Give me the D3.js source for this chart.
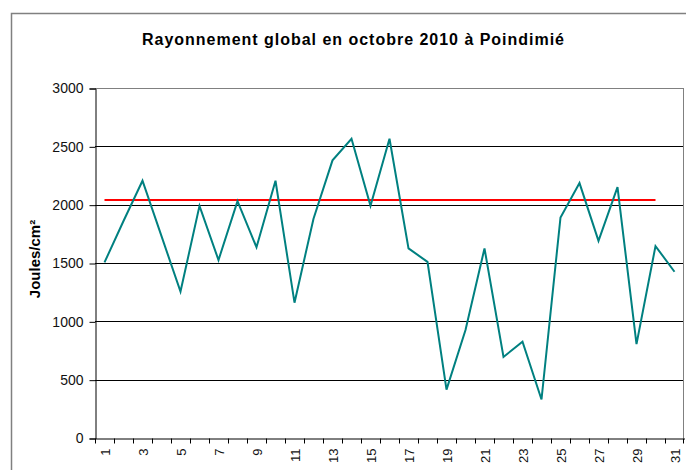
<!DOCTYPE html>
<html>
<head>
<meta charset="utf-8">
<script src="https://cdn.jsdelivr.net/npm/d3@7"></script>
<style>
    body { margin: 0; background: #fff; }
    text { font-family: "Liberation Sans", Arial, sans-serif; }
</style>
</head>
<body>
<div id="container"></div>
<script>
const days = d3.range(1, 32)
const radiation = [1505, 1860, 2205, 1730, 1255, 1990, 1525, 2030, 1635, 2205,
    1160, 1880, 2380, 2565, 1990, 2565, 1625, 1510, 415, 925,
    1625, 695, 825, 330, 1890, 2185, 1690, 2150, 805, 1645, 1425]
const referenceDays = [1, 30]
const referenceValue = 2040
const yTicks = [0, 500, 1000, 1500, 2000, 2500, 3000]

const config = {
    width: 686,
    height: 470,
    margin: { left: 95, right: 2, top: 88, bottom: 32 },
}

const svg = d3.select('#container')
    .append('svg')
    .attr('width', config.width)
    .attr('height', config.height)

// chart frame
svg.append('rect')
    .attr('x', 11.5)
    .attr('y', 13.5)
    .attr('width', 700)
    .attr('height', 500)
    .attr('fill', '#fff')
    .attr('stroke', '#808080')
    .attr('stroke-width', 1.5)

svg.append('text')
    .attr('x', 353)
    .attr('y', 45)
    .attr('text-anchor', 'middle')
    .attr('font-size', '16px')
    .attr('font-weight', 'bold')
    .attr('textLength', 422)
    .attr('lengthAdjust', 'spacing')
    .text('Rayonnement global en octobre 2010 à Poindimié')

const scaleX = d3.scaleBand()
    .domain(days)
    .range([config.margin.left, config.width - config.margin.right])

const scaleY = d3.scaleLinear()
    .domain([0, 3000])
    .range([config.height - config.margin.bottom, config.margin.top])

const cx = d => scaleX(d) + scaleX.bandwidth() / 2

// grid
svg.append('g')
    .selectAll('line')
    .data(yTicks.filter(v => v > 0))
    .enter()
    .append('line')
    .attr('x1', config.margin.left)
    .attr('x2', config.width - config.margin.right)
    .attr('y1', d => Math.round(scaleY(d)) + 0.5)
    .attr('y2', d => Math.round(scaleY(d)) + 0.5)
    .attr('stroke', d => d === 3000 ? '#808080' : '#000')

// right border of plot area
svg.append('line')
    .attr('x1', config.width - config.margin.right - 0.5)
    .attr('x2', config.width - config.margin.right - 0.5)
    .attr('y1', scaleY(3000))
    .attr('y2', scaleY(0))
    .attr('stroke', '#808080')

const yAxis = svg.append('g')
    .attr('transform', `translate(${config.margin.left + 0.5}, 0.5)`)
    .call(d3.axisLeft(scaleY)
        .tickValues(yTicks)
        .tickFormat(d3.format('d'))
        .tickSize(6)
        .tickPadding(6))
yAxis.selectAll('text')
    .attr('font-size', '14px')
    .attr('fill', '#111')
    .attr('font-family', '"Liberation Sans", Arial, sans-serif')
yAxis.selectAll('line, path').attr('stroke', '#000')

const xAxis = svg.append('g')
    .attr('transform', `translate(0.5, ${scaleY(0) + 0.5})`)
    .call(d3.axisBottom(scaleX)
        .tickSize(5)
        .tickSizeOuter(0)
        .tickFormat(d => d % 2 === 1 ? d : ''))
xAxis.selectAll('.tick line')
    .attr('x1', -scaleX.bandwidth() / 2)
    .attr('x2', -scaleX.bandwidth() / 2)
xAxis.append('line')
    .attr('x1', config.width - config.margin.right - 1)
    .attr('x2', config.width - config.margin.right - 1)
    .attr('y2', 5)
    .attr('stroke', '#000')
xAxis.selectAll('.tick text')
    .attr('font-size', '13px')
    .attr('fill', '#111')
    .attr('font-family', '"Liberation Sans", Arial, sans-serif')
    .attr('transform', 'rotate(-90)')
    .attr('text-anchor', 'end')
    .attr('dy', '0.35em')
    .attr('x', -10)
    .attr('y', 0)
xAxis.selectAll('line, path').attr('stroke', '#000')

// y title
svg.append('text')
    .attr('transform', `translate(40, 259) rotate(-90)`)
    .attr('text-anchor', 'middle')
    .attr('font-size', '15px')
    .attr('font-weight', 'bold')
    .text('Joules/cm²')

// reference line
svg.append('line')
    .attr('x1', cx(referenceDays[0]))
    .attr('x2', cx(referenceDays[1]))
    .attr('y1', scaleY(referenceValue))
    .attr('y2', scaleY(referenceValue))
    .attr('stroke', '#ff0000')
    .attr('stroke-width', 2)

const line = d3.line()
    .x((d, i) => cx(days[i]))
    .y(d => scaleY(d))

svg.append('path')
    .datum(radiation)
    .attr('d', line)
    .attr('fill', 'none')
    .attr('stroke', '#008080')
    .attr('stroke-width', 2)
</script>
</body>
</html>
